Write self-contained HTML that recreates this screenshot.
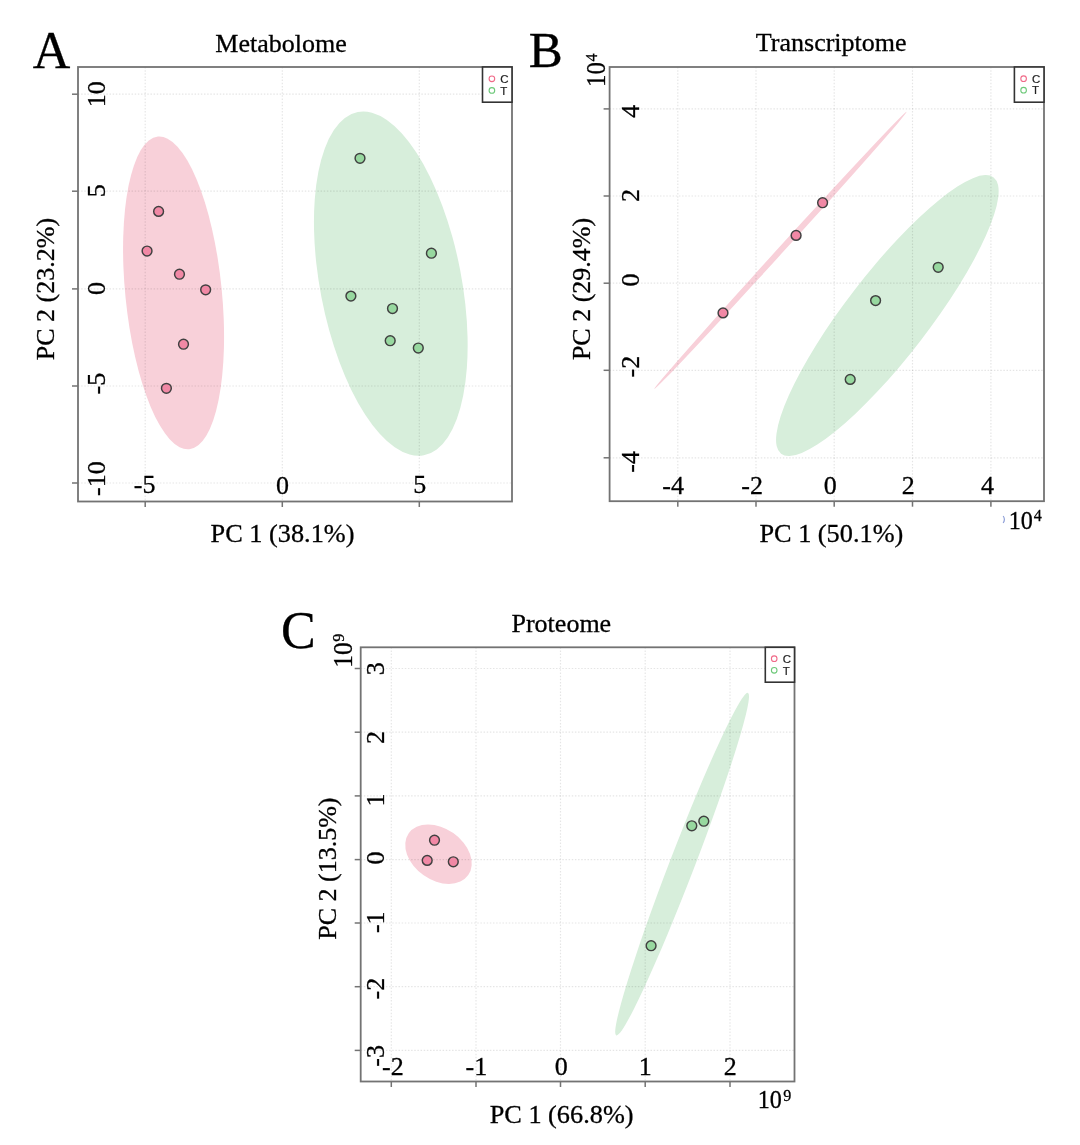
<!DOCTYPE html>
<html><head><meta charset="utf-8"><style>
html,body{margin:0;padding:0;background:#fff;width:1080px;height:1145px;overflow:hidden}
svg{display:block;will-change:transform}
text{font-family:"Liberation Serif",serif;stroke:#000;stroke-width:0.3px}
.sans{font-family:"Liberation Sans",sans-serif;stroke:#222;stroke-width:0.2px}
</style></head><body>
<svg width="1080" height="1145" viewBox="0 0 1080 1145">
<rect width="1080" height="1145" fill="#fff"/>
<ellipse cx="173.57" cy="292.95" rx="157.11" ry="48.25" transform="rotate(84.28 173.57 292.95)" fill="#f8d0d9"/>
<ellipse cx="390.80" cy="283.67" rx="174.78" ry="70.67" transform="rotate(79.11 390.80 283.67)" fill="#d7eedb"/>
<line x1="145.2" y1="67" x2="145.2" y2="501.5" stroke="#000" stroke-opacity="0.1" stroke-width="1.2" stroke-dasharray="1.5,1.65"/>
<line x1="282.3" y1="67" x2="282.3" y2="501.5" stroke="#000" stroke-opacity="0.1" stroke-width="1.2" stroke-dasharray="1.5,1.65"/>
<line x1="419.3" y1="67" x2="419.3" y2="501.5" stroke="#000" stroke-opacity="0.1" stroke-width="1.2" stroke-dasharray="1.5,1.65"/>
<line x1="78" y1="94.2" x2="512" y2="94.2" stroke="#000" stroke-opacity="0.1" stroke-width="1.2" stroke-dasharray="1.5,1.65"/>
<line x1="78" y1="191.2" x2="512" y2="191.2" stroke="#000" stroke-opacity="0.1" stroke-width="1.2" stroke-dasharray="1.5,1.65"/>
<line x1="78" y1="288.9" x2="512" y2="288.9" stroke="#000" stroke-opacity="0.1" stroke-width="1.2" stroke-dasharray="1.5,1.65"/>
<line x1="78" y1="386" x2="512" y2="386" stroke="#000" stroke-opacity="0.1" stroke-width="1.2" stroke-dasharray="1.5,1.65"/>
<line x1="78" y1="483" x2="512" y2="483" stroke="#000" stroke-opacity="0.1" stroke-width="1.2" stroke-dasharray="1.5,1.65"/>
<circle cx="158.6" cy="211.4" r="4.9" fill="#f188a5" stroke="#404040" stroke-width="1.45"/>
<circle cx="147.06" cy="251.0" r="4.9" fill="#f188a5" stroke="#404040" stroke-width="1.45"/>
<circle cx="179.47" cy="274.2" r="4.9" fill="#f188a5" stroke="#404040" stroke-width="1.45"/>
<circle cx="205.65" cy="289.8" r="4.9" fill="#f188a5" stroke="#404040" stroke-width="1.45"/>
<circle cx="183.5" cy="344.2" r="4.9" fill="#f188a5" stroke="#404040" stroke-width="1.45"/>
<circle cx="166.4" cy="388.3" r="4.9" fill="#f188a5" stroke="#404040" stroke-width="1.45"/>
<circle cx="360" cy="158.3" r="4.9" fill="#97d89f" stroke="#404040" stroke-width="1.45"/>
<circle cx="431.4" cy="253.2" r="4.9" fill="#97d89f" stroke="#404040" stroke-width="1.45"/>
<circle cx="350.9" cy="296.1" r="4.9" fill="#97d89f" stroke="#404040" stroke-width="1.45"/>
<circle cx="392.5" cy="308.5" r="4.9" fill="#97d89f" stroke="#404040" stroke-width="1.45"/>
<circle cx="390.2" cy="340.7" r="4.9" fill="#97d89f" stroke="#404040" stroke-width="1.45"/>
<circle cx="418.3" cy="348.0" r="4.9" fill="#97d89f" stroke="#404040" stroke-width="1.45"/>
<rect x="78" y="67" width="434" height="434.5" fill="none" stroke="#737373" stroke-width="1.8"/>
<line x1="145.2" y1="501.5" x2="145.2" y2="507.0" stroke="#737373" stroke-width="1.5"/>
<line x1="282.3" y1="501.5" x2="282.3" y2="507.0" stroke="#737373" stroke-width="1.5"/>
<line x1="419.3" y1="501.5" x2="419.3" y2="507.0" stroke="#737373" stroke-width="1.5"/>
<line x1="72" y1="94.2" x2="78" y2="94.2" stroke="#737373" stroke-width="1.5"/>
<line x1="72" y1="191.2" x2="78" y2="191.2" stroke="#737373" stroke-width="1.5"/>
<line x1="72" y1="288.9" x2="78" y2="288.9" stroke="#737373" stroke-width="1.5"/>
<line x1="72" y1="386" x2="78" y2="386" stroke="#737373" stroke-width="1.5"/>
<line x1="72" y1="483" x2="78" y2="483" stroke="#737373" stroke-width="1.5"/>
<rect x="482.5" y="67" width="29.5" height="35.2" fill="#fff" stroke="#333" stroke-width="1.6"/>
<circle cx="491.9" cy="78.8" r="2.8" fill="none" stroke="#f06a88" stroke-width="1.1"/>
<circle cx="491.9" cy="90.4" r="2.8" fill="none" stroke="#6cc878" stroke-width="1.1"/>
<text x="500.3" y="83.3" class="sans" font-size="11.5" fill="#222">C</text>
<text x="500.3" y="94.6" class="sans" font-size="11.5" fill="#222">T</text>
<text transform="translate(32.73,67.62)" font-size="52" fill="#000">A</text>
<text transform="translate(215.27,52.08)" font-size="26" fill="#000">Metabolome</text>
<text transform="translate(105.00,107.18) rotate(-90)" font-size="26" fill="#000">10</text>
<text transform="translate(105.22,197.15) rotate(-90)" font-size="26" fill="#000">5</text>
<text transform="translate(105.35,294.95) rotate(-90)" font-size="26" fill="#000">0</text>
<text transform="translate(105.22,394.38) rotate(-90)" font-size="26" fill="#000">-5</text>
<text transform="translate(105.00,495.93) rotate(-90)" font-size="26" fill="#000">-10</text>
<text transform="translate(133.73,493.38)" font-size="26" fill="#000">-5</text>
<text transform="translate(276.10,493.50)" font-size="26" fill="#000">0</text>
<text transform="translate(413.25,493.38)" font-size="26" fill="#000">5</text>
<text transform="translate(210.55,542.15) scale(1.012,1)" font-size="26" fill="#000">PC 1 (38.1%)</text>
<text transform="translate(54.35,360.20) rotate(-90)" font-size="26" fill="#000">PC 2 (23.2%)</text>
<ellipse cx="780.50" cy="250.35" rx="187.34" ry="3.00" transform="rotate(-47.69 780.50 250.35)" fill="#f8d0d9"/>
<ellipse cx="887.35" cy="315.55" rx="174.30" ry="41.63" transform="rotate(127.58 887.35 315.55)" fill="#d7eedb"/>
<line x1="677.8" y1="67" x2="677.8" y2="501.2" stroke="#000" stroke-opacity="0.1" stroke-width="1.2" stroke-dasharray="1.5,1.65"/>
<line x1="756.0" y1="67" x2="756.0" y2="501.2" stroke="#000" stroke-opacity="0.1" stroke-width="1.2" stroke-dasharray="1.5,1.65"/>
<line x1="834.2" y1="67" x2="834.2" y2="501.2" stroke="#000" stroke-opacity="0.1" stroke-width="1.2" stroke-dasharray="1.5,1.65"/>
<line x1="912.5" y1="67" x2="912.5" y2="501.2" stroke="#000" stroke-opacity="0.1" stroke-width="1.2" stroke-dasharray="1.5,1.65"/>
<line x1="990.9" y1="67" x2="990.9" y2="501.2" stroke="#000" stroke-opacity="0.1" stroke-width="1.2" stroke-dasharray="1.5,1.65"/>
<line x1="609.6" y1="108.9" x2="1044" y2="108.9" stroke="#000" stroke-opacity="0.1" stroke-width="1.2" stroke-dasharray="1.5,1.65"/>
<line x1="609.6" y1="196.0" x2="1044" y2="196.0" stroke="#000" stroke-opacity="0.1" stroke-width="1.2" stroke-dasharray="1.5,1.65"/>
<line x1="609.6" y1="283.2" x2="1044" y2="283.2" stroke="#000" stroke-opacity="0.1" stroke-width="1.2" stroke-dasharray="1.5,1.65"/>
<line x1="609.6" y1="370.3" x2="1044" y2="370.3" stroke="#000" stroke-opacity="0.1" stroke-width="1.2" stroke-dasharray="1.5,1.65"/>
<line x1="609.6" y1="457.8" x2="1044" y2="457.8" stroke="#000" stroke-opacity="0.1" stroke-width="1.2" stroke-dasharray="1.5,1.65"/>
<circle cx="822.6" cy="202.7" r="4.9" fill="#f188a5" stroke="#404040" stroke-width="1.45"/>
<circle cx="796.1" cy="235.4" r="4.9" fill="#f188a5" stroke="#404040" stroke-width="1.45"/>
<circle cx="723.0" cy="312.9" r="4.9" fill="#f188a5" stroke="#404040" stroke-width="1.45"/>
<circle cx="938.2" cy="267.3" r="4.9" fill="#97d89f" stroke="#404040" stroke-width="1.45"/>
<circle cx="875.6" cy="300.6" r="4.9" fill="#97d89f" stroke="#404040" stroke-width="1.45"/>
<circle cx="850.2" cy="379.4" r="4.9" fill="#97d89f" stroke="#404040" stroke-width="1.45"/>
<rect x="609.6" y="67" width="434.4" height="434.2" fill="none" stroke="#737373" stroke-width="1.8"/>
<line x1="677.8" y1="501.2" x2="677.8" y2="506.7" stroke="#737373" stroke-width="1.5"/>
<line x1="756.0" y1="501.2" x2="756.0" y2="506.7" stroke="#737373" stroke-width="1.5"/>
<line x1="834.2" y1="501.2" x2="834.2" y2="506.7" stroke="#737373" stroke-width="1.5"/>
<line x1="912.5" y1="501.2" x2="912.5" y2="506.7" stroke="#737373" stroke-width="1.5"/>
<line x1="990.9" y1="501.2" x2="990.9" y2="506.7" stroke="#737373" stroke-width="1.5"/>
<line x1="603.6" y1="108.9" x2="609.6" y2="108.9" stroke="#737373" stroke-width="1.5"/>
<line x1="603.6" y1="196.0" x2="609.6" y2="196.0" stroke="#737373" stroke-width="1.5"/>
<line x1="603.6" y1="283.2" x2="609.6" y2="283.2" stroke="#737373" stroke-width="1.5"/>
<line x1="603.6" y1="370.3" x2="609.6" y2="370.3" stroke="#737373" stroke-width="1.5"/>
<line x1="603.6" y1="457.8" x2="609.6" y2="457.8" stroke="#737373" stroke-width="1.5"/>
<rect x="1014.4" y="67" width="29.600000000000023" height="35.2" fill="#fff" stroke="#333" stroke-width="1.6"/>
<circle cx="1023.6" cy="78.7" r="2.8" fill="none" stroke="#f06a88" stroke-width="1.1"/>
<circle cx="1023.6" cy="90.2" r="2.8" fill="none" stroke="#6cc878" stroke-width="1.1"/>
<text x="1032" y="83.3" class="sans" font-size="11.5" fill="#222">C</text>
<text x="1032" y="94.4" class="sans" font-size="11.5" fill="#222">T</text>
<text transform="translate(528.70,66.97)" font-size="51" fill="#000">B</text>
<text transform="translate(755.85,51.33)" font-size="26" fill="#000">Transcriptome</text>
<text transform="translate(638.50,117.80) rotate(-90)" font-size="26" fill="#000">4</text>
<text transform="translate(638.50,202.00) rotate(-90)" font-size="26" fill="#000">2</text>
<text transform="translate(638.50,286.50) rotate(-90)" font-size="26" fill="#000">0</text>
<text transform="translate(638.50,377.48) rotate(-90)" font-size="26" fill="#000">-2</text>
<text transform="translate(638.90,472.77) rotate(-90)" font-size="26" fill="#000">-4</text>
<text transform="translate(662.23,493.80)" font-size="26" fill="#000">-4</text>
<text transform="translate(741.23,493.80)" font-size="26" fill="#000">-2</text>
<text transform="translate(823.80,493.80)" font-size="26" fill="#000">0</text>
<text transform="translate(901.85,493.80)" font-size="26" fill="#000">2</text>
<text transform="translate(981.00,493.75)" font-size="26" fill="#000">4</text>
<text transform="translate(759.40,542.05) scale(1.012,1)" font-size="26" fill="#000">PC 1 (50.1%)</text>
<text transform="translate(590.30,360.10) rotate(-90)" font-size="26" fill="#000">PC 2 (29.4%)</text>
<text transform="translate(605.05,86.95) rotate(-90) scale(0.9,1)" font-size="27.5" fill="#000">10</text>
<text transform="translate(596.75,61.57) rotate(-90) scale(0.92,1)" font-size="17.5" fill="#000">4</text>
<path d="M1003.2,516 Q1005.6,519.4 1003.2,523" fill="none" stroke="#8fa0d8" stroke-width="1.2"/>
<text transform="translate(1008.73,528.50) scale(0.93,1)" font-size="26" fill="#000">10</text>
<text transform="translate(1033.78,520.90) scale(0.92,1)" font-size="17.5" fill="#000">4</text>
<ellipse cx="438.50" cy="854.22" rx="36.34" ry="25.82" transform="rotate(-144.99 438.50 854.22)" fill="#f8d0d9"/>
<ellipse cx="682.10" cy="864.20" rx="183.54" ry="12.50" transform="rotate(-68.96 682.10 864.20)" fill="#d7eedb"/>
<line x1="391.3" y1="647.3" x2="391.3" y2="1081.5" stroke="#000" stroke-opacity="0.1" stroke-width="1.2" stroke-dasharray="1.5,1.65"/>
<line x1="476.0" y1="647.3" x2="476.0" y2="1081.5" stroke="#000" stroke-opacity="0.1" stroke-width="1.2" stroke-dasharray="1.5,1.65"/>
<line x1="560.5" y1="647.3" x2="560.5" y2="1081.5" stroke="#000" stroke-opacity="0.1" stroke-width="1.2" stroke-dasharray="1.5,1.65"/>
<line x1="645.2" y1="647.3" x2="645.2" y2="1081.5" stroke="#000" stroke-opacity="0.1" stroke-width="1.2" stroke-dasharray="1.5,1.65"/>
<line x1="730.0" y1="647.3" x2="730.0" y2="1081.5" stroke="#000" stroke-opacity="0.1" stroke-width="1.2" stroke-dasharray="1.5,1.65"/>
<line x1="360.7" y1="668.5" x2="794.5" y2="668.5" stroke="#000" stroke-opacity="0.1" stroke-width="1.2" stroke-dasharray="1.5,1.65"/>
<line x1="360.7" y1="732.2" x2="794.5" y2="732.2" stroke="#000" stroke-opacity="0.1" stroke-width="1.2" stroke-dasharray="1.5,1.65"/>
<line x1="360.7" y1="795.9" x2="794.5" y2="795.9" stroke="#000" stroke-opacity="0.1" stroke-width="1.2" stroke-dasharray="1.5,1.65"/>
<line x1="360.7" y1="859.6" x2="794.5" y2="859.6" stroke="#000" stroke-opacity="0.1" stroke-width="1.2" stroke-dasharray="1.5,1.65"/>
<line x1="360.7" y1="923.0" x2="794.5" y2="923.0" stroke="#000" stroke-opacity="0.1" stroke-width="1.2" stroke-dasharray="1.5,1.65"/>
<line x1="360.7" y1="986.7" x2="794.5" y2="986.7" stroke="#000" stroke-opacity="0.1" stroke-width="1.2" stroke-dasharray="1.5,1.65"/>
<line x1="360.7" y1="1050.4" x2="794.5" y2="1050.4" stroke="#000" stroke-opacity="0.1" stroke-width="1.2" stroke-dasharray="1.5,1.65"/>
<circle cx="434.5" cy="840.2" r="4.9" fill="#f188a5" stroke="#404040" stroke-width="1.45"/>
<circle cx="427.2" cy="860.4" r="4.9" fill="#f188a5" stroke="#404040" stroke-width="1.45"/>
<circle cx="453.3" cy="861.8" r="4.9" fill="#f188a5" stroke="#404040" stroke-width="1.45"/>
<circle cx="691.8" cy="825.8" r="4.9" fill="#97d89f" stroke="#404040" stroke-width="1.45"/>
<circle cx="703.8" cy="821.2" r="4.9" fill="#97d89f" stroke="#404040" stroke-width="1.45"/>
<circle cx="651.1" cy="945.7" r="4.9" fill="#97d89f" stroke="#404040" stroke-width="1.45"/>
<rect x="360.7" y="647.3" width="433.8" height="434.20000000000005" fill="none" stroke="#737373" stroke-width="1.8"/>
<line x1="391.3" y1="1081.5" x2="391.3" y2="1087.0" stroke="#737373" stroke-width="1.5"/>
<line x1="476.0" y1="1081.5" x2="476.0" y2="1087.0" stroke="#737373" stroke-width="1.5"/>
<line x1="560.5" y1="1081.5" x2="560.5" y2="1087.0" stroke="#737373" stroke-width="1.5"/>
<line x1="645.2" y1="1081.5" x2="645.2" y2="1087.0" stroke="#737373" stroke-width="1.5"/>
<line x1="730.0" y1="1081.5" x2="730.0" y2="1087.0" stroke="#737373" stroke-width="1.5"/>
<line x1="354.7" y1="668.5" x2="360.7" y2="668.5" stroke="#737373" stroke-width="1.5"/>
<line x1="354.7" y1="732.2" x2="360.7" y2="732.2" stroke="#737373" stroke-width="1.5"/>
<line x1="354.7" y1="795.9" x2="360.7" y2="795.9" stroke="#737373" stroke-width="1.5"/>
<line x1="354.7" y1="859.6" x2="360.7" y2="859.6" stroke="#737373" stroke-width="1.5"/>
<line x1="354.7" y1="923.0" x2="360.7" y2="923.0" stroke="#737373" stroke-width="1.5"/>
<line x1="354.7" y1="986.7" x2="360.7" y2="986.7" stroke="#737373" stroke-width="1.5"/>
<line x1="354.7" y1="1050.4" x2="360.7" y2="1050.4" stroke="#737373" stroke-width="1.5"/>
<rect x="765.3" y="647.3" width="29.200000000000045" height="34.90000000000009" fill="#fff" stroke="#333" stroke-width="1.6"/>
<circle cx="774.2" cy="658.7" r="2.8" fill="none" stroke="#f06a88" stroke-width="1.1"/>
<circle cx="774.2" cy="670.3" r="2.8" fill="none" stroke="#6cc878" stroke-width="1.1"/>
<text x="782.8" y="663.3" class="sans" font-size="11.5" fill="#222">C</text>
<text x="782.8" y="675" class="sans" font-size="11.5" fill="#222">T</text>
<text transform="translate(280.88,647.55)" font-size="52" fill="#000">C</text>
<text transform="translate(511.50,631.62)" font-size="26" fill="#000">Proteome</text>
<text transform="translate(381.98,1075.15)" font-size="26" fill="#000">-2</text>
<text transform="translate(465.48,1075.15)" font-size="26" fill="#000">-1</text>
<text transform="translate(554.80,1075.15)" font-size="26" fill="#000">0</text>
<text transform="translate(638.73,1075.15)" font-size="26" fill="#000">1</text>
<text transform="translate(723.85,1075.15)" font-size="26" fill="#000">2</text>
<text transform="translate(383.60,675.33) rotate(-90)" font-size="26" fill="#000">3</text>
<text transform="translate(383.60,743.95) rotate(-90)" font-size="26" fill="#000">2</text>
<text transform="translate(383.60,806.38) rotate(-90)" font-size="26" fill="#000">1</text>
<text transform="translate(383.60,864.50) rotate(-90)" font-size="26" fill="#000">0</text>
<text transform="translate(383.60,933.08) rotate(-90)" font-size="26" fill="#000">-1</text>
<text transform="translate(383.60,999.38) rotate(-90)" font-size="26" fill="#000">-2</text>
<text transform="translate(383.60,1066.67) rotate(-90)" font-size="26" fill="#000">-3</text>
<text transform="translate(489.65,1122.50) scale(1.012,1)" font-size="26" fill="#000">PC 1 (66.8%)</text>
<text transform="translate(352.25,667.78) rotate(-90) scale(0.93,1)" font-size="27.5" fill="#000">10</text>
<text transform="translate(344.20,641.81) rotate(-90) scale(0.92,1)" font-size="17.5" fill="#000">9</text>
<text transform="translate(757.63,1108.35) scale(0.93,1)" font-size="26" fill="#000">10</text>
<text transform="translate(783.14,1101.05) scale(0.92,1)" font-size="17.5" fill="#000">9</text>
<text transform="translate(336.25,939.75) rotate(-90)" font-size="26" fill="#000">PC 2 (13.5%)</text>
</svg></body></html>
